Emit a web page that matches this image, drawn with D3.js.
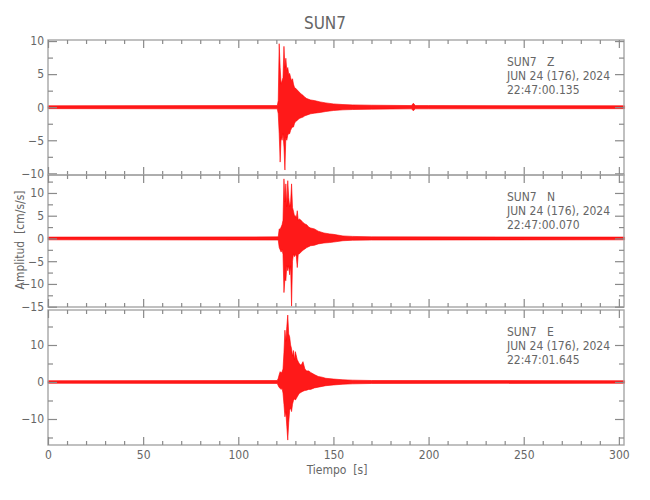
<!DOCTYPE html>
<html><head><meta charset="utf-8">
<script src="https://cdn.jsdelivr.net/npm/d3@7"></script>
<style>
body{margin:0;background:#fff}
svg{display:block}
text{font-family:"Liberation Sans Narrow","DejaVu Sans Condensed","Roboto Condensed",sans-serif;fill:#666}
</style>
</head><body>
<svg id="c" width="650" height="500"></svg>
<script>
// ---- data (envelope of each trace: upper / lower amplitude, cm/s/s) ----
const chartTitle = "SUN7";
const stationName = "SUN7";
const dateLabel = "JUN 24 (176), 2024";
const componentNames = ["Z", "N", "E"];
const startTimes = ["22:47:00.135", "22:47:00.070", "22:47:01.645"];
const xTickValues = [0, 50, 100, 150, 200, 250, 300];
const xMinorTicks = d3.range(0, 301, 10);

const zTimes = [0,120.5,121,121.5,122,122.5,123,123.5,124,124.5,125,125.5,126,126.5,127,127.5,128,128.5,129,129.5,130,131,132,133,134,135,136,138,140,143,146,150,155,160,170,191,192,193,200,303];
const zHi = [0.22,0.25,1.0,9.6,6.0,3.5,4.0,4.5,9.2,6.0,7.4,5.5,6.0,5.0,5.1,4.5,4.0,4.3,3.5,3.0,2.9,2.6,2.3,2.0,1.8,1.5,1.3,1.1,1.0,0.8,0.65,0.5,0.4,0.35,0.3,0.25,0.6,0.25,0.25,0.22];
const zLo = [-0.22,-0.25,-1.0,-4.0,-8.3,-4.5,-5.0,-4.0,-6.0,-9.5,-4.5,-5.0,-4.2,-4.0,-4.0,-3.5,-3.2,-3.0,-3.0,-2.5,-2.2,-2.0,-1.7,-1.6,-1.5,-1.3,-1.2,-1.0,-0.9,-0.8,-0.65,-0.5,-0.4,-0.35,-0.3,-0.25,-0.55,-0.25,-0.25,-0.22];

const nTimes = [0,121,121.5,122,122.5,123,123.5,124,124.5,125,125.5,126,126.5,127,127.5,128,128.5,129,129.5,130,130.5,131,131.5,132,133,134,135,136,137,138,140,142,145,148,150,155,160,170,303];
const nHi = [0.3,0.35,2.1,2.0,2.5,3.0,4.0,13.1,8.0,12.0,7.0,12.7,9.0,7.0,8.0,12.0,6.8,6.0,5.0,5.0,4.5,6.1,4.0,4.3,4.0,3.5,3.2,3.0,2.5,2.3,2.1,1.6,1.2,1.0,0.9,0.55,0.45,0.35,0.3];
const nLo = [-0.3,-0.35,-2.0,-2.5,-3.0,-2.5,-3.5,-11.9,-9.0,-9.3,-6.0,-7.1,-6.0,-8.0,-6.0,-14.9,-5.0,-3.4,-4.0,-3.5,-4.0,-6.4,-3.5,-3.4,-3.0,-2.6,-2.3,-2.0,-1.8,-1.6,-1.5,-1.2,-1.0,-0.9,-0.8,-0.5,-0.4,-0.35,-0.3];

const eTimes = [0,120.5,121,121.5,122,122.5,123,123.5,124,124.5,125,125.5,126,126.5,127,127.5,128,128.5,129,129.5,130,131,132,133,134,135,136,137,138,140,142,144,146,150,155,160,170,303];
const eHi = [0.35,0.4,1.0,2.0,2.8,2.5,2.8,3.5,8.0,14.0,11.0,15.0,18.1,13.0,12.2,10.0,9.0,7.0,8.5,6.0,8.2,6.0,5.0,4.5,5.5,3.5,3.0,3.0,2.6,2.0,1.5,1.3,1.0,0.8,0.6,0.5,0.4,0.35];
const eLo = [-0.35,-0.4,-1.0,-1.5,-1.7,-2.0,-1.7,-3.0,-6.0,-9.4,-8.0,-12.0,-15.7,-11.0,-7.6,-7.0,-8.0,-6.0,-5.0,-4.5,-4.9,-4.0,-3.1,-2.8,-2.5,-2.3,-2.2,-2.0,-2.0,-1.6,-1.4,-1.2,-1.0,-0.8,-0.6,-0.5,-0.4,-0.35];

const yDomains = [[-10.25, 10.16], [-15.07, 13.95], [-17.03, 19.46]];
const yMajorTicks = [[-10,-5,0,5,10], [-15,-10,-5,0,5,10], [-10,0,10]];
const yMinorTicks = [[-7.5,-2.5,2.5,7.5], [-12.5,-7.5,-2.5,2.5,7.5,12.5], [-15,-5,5,15]];

// ---- layout ----
const left = 48, right = 624;
const panelTops = [40, 175, 310];
const panelBottoms = [175, 307, 445];
const frameColor = "#a6a6a6";
const traceColor = "#ff0000";

const svg = d3.select("#c");
const x = d3.scaleLinear().domain([0, 302.7]).range([left, right]);

const traces = [
  {t: zTimes, hi: zHi, lo: zLo},
  {t: nTimes, hi: nHi, lo: nLo},
  {t: eTimes, hi: eHi, lo: eLo}
];

traces.forEach((tr, i) => {
  const top = panelTops[i], bot = panelBottoms[i];
  const y = d3.scaleLinear().domain(yDomains[i]).range([bot, top]);
  const g = svg.append("g");
  const pts = tr.t.map((t, k) => ({t, hi: tr.hi[k], lo: tr.lo[k]}));

  // trace envelope
  const area = d3.area().x(d => x(d.t)).y0(d => y(d.lo)).y1(d => y(d.hi));
  g.append("path").datum(pts).attr("d", area)
    .attr("fill", traceColor).attr("fill-opacity", 0.9)
    .attr("stroke", traceColor).attr("stroke-width", 0.6);

  // frame
  g.append("rect").attr("x", left).attr("y", top).attr("width", right - left).attr("height", bot - top)
    .attr("fill", "none").attr("stroke", frameColor).attr("stroke-width", 1.4);

  const styleAxis = sel => {
    sel.select(".domain").remove();
    sel.selectAll("line").attr("stroke", "#8a8a8a").attr("stroke-width", 1.2);
    sel.selectAll("text").attr("fill", "#666").style("font-size", "12px");
  };

  // y axes (inward ticks)
  g.append("g").attr("transform", `translate(${left},0)`)
    .call(d3.axisLeft(y).tickValues(yMajorTicks[i]).tickSize(-9).tickPadding(4).tickFormat(d3.format("d")))
    .call(styleAxis)
    .call(s => s.selectAll("text").text(d => d < 0 ? "\u2212" + Math.abs(d) : d));
  g.append("g").attr("transform", `translate(${left},0)`)
    .call(d3.axisLeft(y).tickValues(yMinorTicks[i]).tickSize(-5).tickFormat(""))
    .call(styleAxis);
  g.append("g").attr("transform", `translate(${right},0)`)
    .call(d3.axisRight(y).tickValues(yMajorTicks[i]).tickSize(-9).tickFormat(""))
    .call(styleAxis);
  g.append("g").attr("transform", `translate(${right},0)`)
    .call(d3.axisRight(y).tickValues(yMinorTicks[i]).tickSize(-5).tickFormat(""))
    .call(styleAxis);

  // x axes top & bottom (inward ticks)
  const minor = xMinorTicks.filter(v => v % 50 !== 0);
  g.append("g").attr("transform", `translate(0,${top})`)
    .call(d3.axisTop(x).tickValues(xTickValues).tickSize(-8).tickFormat(""))
    .call(styleAxis);
  g.append("g").attr("transform", `translate(0,${top})`)
    .call(d3.axisTop(x).tickValues(minor).tickSize(-4).tickFormat(""))
    .call(styleAxis);
  g.append("g").attr("transform", `translate(0,${bot})`)
    .call(d3.axisBottom(x).tickValues(xTickValues).tickSize(-8).tickPadding(5)
      .tickFormat(i === 2 ? d3.format("d") : ""))
    .call(styleAxis);
  g.append("g").attr("transform", `translate(0,${bot})`)
    .call(d3.axisBottom(x).tickValues(minor).tickSize(-4).tickFormat(""))
    .call(styleAxis);

  // annotation
  const ann = g.append("text").attr("x", 507).attr("y", top + 26)
    .style("font-size", "12px").attr("fill", "#555").style("white-space", "pre");
  ann.append("tspan").attr("x", 507).attr("dy", 0).text(stationName + "   " + componentNames[i]);
  ann.append("tspan").attr("x", 507).attr("dy", 14).text(dateLabel);
  ann.append("tspan").attr("x", 507).attr("dy", 14).text(startTimes[i]);
});

// titles
svg.append("text").attr("x", 325).attr("y", 29).attr("text-anchor", "middle")
  .style("font-size", "17px").attr("fill", "#777").text(chartTitle);
svg.append("text").attr("x", 337).attr("y", 474).attr("text-anchor", "middle")
  .style("font-size", "12px").attr("fill", "#666").style("white-space", "pre").text("Tiempo  [s]");
svg.append("text").attr("transform", "translate(24,240) rotate(-90)").attr("text-anchor", "middle")
  .style("font-size", "12px").attr("fill", "#666").style("white-space", "pre").text("Amplitud  [cm/s/s]");
</script>
</body></html>
